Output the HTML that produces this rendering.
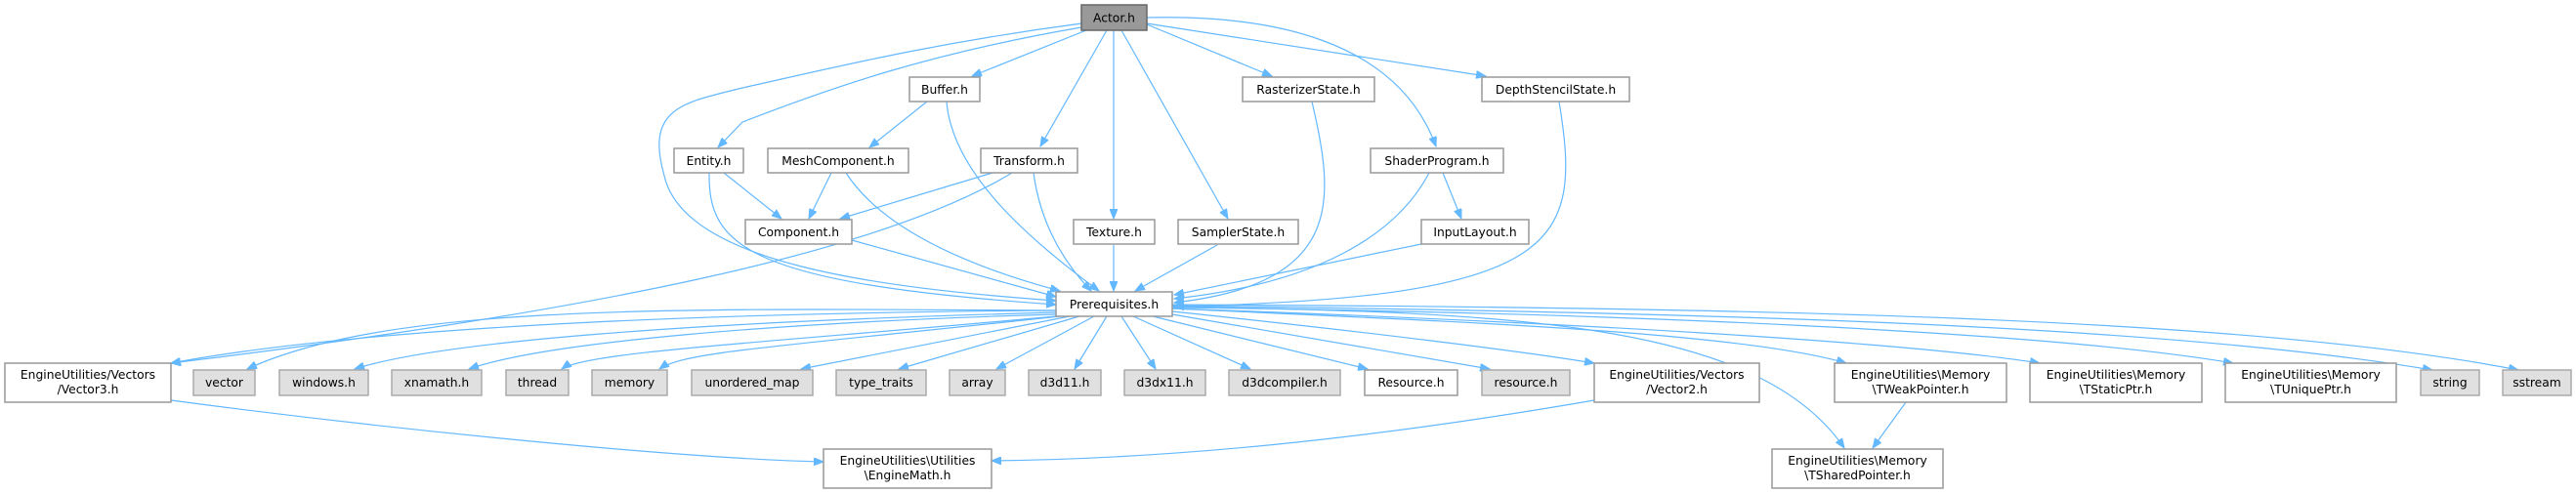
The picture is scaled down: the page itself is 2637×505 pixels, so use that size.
<!DOCTYPE html>
<html><head><meta charset="utf-8"><style>
html,body{margin:0;padding:0;background:#fff}
svg{display:block}
text{font-family:"DejaVu Sans","Liberation Sans",sans-serif;font-size:12.3px;fill:#000}
.n{fill:#fff;stroke:#999;stroke-width:1.5}
.g{fill:#e0e0e0;stroke:#aaa;stroke-width:1.5}
.a{fill:#999;stroke:#666;stroke-width:1.5}
path.e{fill:none;stroke:#63b8ff;stroke-width:1.2}
</style></head><body>
<svg width="2637" height="505" viewBox="0 0 2637 505" xmlns="http://www.w3.org/2000/svg">
<defs><marker id="m" markerWidth="11" markerHeight="8" refX="10" refY="4" orient="auto" markerUnits="userSpaceOnUse"><path d="M0,0 L10,4 L0,8 z" fill="#63b8ff" stroke="#63b8ff"/></marker></defs>
<g marker-end="url(#m)">
<!-- Actor edges -->
<path class="e" d="M1107,24 C950,45 850,70 760,90 C700,105 660,110 680,180 C700,270 900,295 1081,308"/>
<path class="e" d="M1107,28 C950,55 850,90 760,125 L735,151"/>
<path class="e" d="M1112,31 L995,78"/>
<path class="e" d="M1133,31 L1065,150"/>
<path class="e" d="M1140,31 L1140,224"/>
<path class="e" d="M1148,31 L1257,224"/>
<path class="e" d="M1174,25 L1302,78"/>
<path class="e" d="M1174,24 L1521,78"/>
<path class="e" d="M1174,18 C1300,15 1430,40 1470,150"/>
<!-- row 2 -->
<path class="e" d="M949,104 L890,151"/>
<path class="e" d="M969,104 C975,180 1060,250 1125,298"/>
<path class="e" d="M1343,104 C1365,200 1380,290 1202,310"/>
<path class="e" d="M1596,104 C1620,250 1600,305 1202,314"/>
<!-- row 3 -->
<path class="e" d="M741,177 L800,224"/>
<path class="e" d="M726,177 C725,250 760,290 1081,312"/>
<path class="e" d="M851,177 L828,224"/>
<path class="e" d="M866,177 C900,230 980,270 1085,298"/>
<path class="e" d="M1016,177 L860,224"/>
<path class="e" d="M1036,177 C900,260 600,320 175,372"/>
<path class="e" d="M1058,177 C1065,230 1090,270 1117,298"/>
<path class="e" d="M1463,177 C1430,240 1350,290 1202,306"/>
<path class="e" d="M1477,177 L1496,224"/>
<!-- row 4 -->
<path class="e" d="M872,246 L1081,304"/>
<path class="e" d="M1140,251 L1140,298"/>
<path class="e" d="M1246,251 L1162,298"/>
<path class="e" d="M1455,250 L1202,302"/>
<!-- Prereq outgoing -->
<path class="e" d="M1081,318 C800,320 400,330 175,372"/>
<path class="e" d="M1081,318 C700,316 400,310 253,378"/>
<path class="e" d="M1081,320 C700,330 450,350 363,378"/>
<path class="e" d="M1081,322 C800,330 560,350 480,378"/>
<path class="e" d="M1081,324 C800,350 600,360 575,378"/>
<path class="e" d="M1085,324 C800,355 700,360 675,378"/>
<path class="e" d="M1095,324 L820,378"/>
<path class="e" d="M1105,324 L920,378"/>
<path class="e" d="M1120,324 L1020,378"/>
<path class="e" d="M1133,324 L1100,378"/>
<path class="e" d="M1148,324 L1183,378"/>
<path class="e" d="M1160,324 L1280,378"/>
<path class="e" d="M1180,324 L1400,378"/>
<path class="e" d="M1200,322 L1525,378"/>
<path class="e" d="M1200,319 C1400,340 1560,360 1632,372"/>
<path class="e" d="M1200,316 C1500,330 1780,340 1890,372"/>
<path class="e" d="M1200,316 C1600,330 1950,350 2088,372"/>
<path class="e" d="M1200,315 C1650,320 2100,340 2286,372"/>
<path class="e" d="M1200,313 C1700,320 2200,330 2490,379"/>
<path class="e" d="M1200,312 C1800,315 2300,325 2578,379"/>
<path class="e" d="M1200,314 C1550,320 1800,330 1888,459"/>
<!-- bottom -->
<path class="e" d="M175,410 C400,440 700,470 843,473"/>
<path class="e" d="M1632,410 C1400,450 1200,470 1015,472"/>
<path class="e" d="M1951,412 L1917,459"/>
</g>
<!-- nodes -->
<rect class="a" x="1107" y="5" width="67" height="26"/><text x="1140.5" y="22.5" text-anchor="middle">Actor.h</text>
<rect class="n" x="931" y="79" width="72" height="25"/><text x="967" y="96" text-anchor="middle">Buffer.h</text>
<rect class="n" x="1272" y="79" width="135" height="25"/><text x="1339.5" y="96" text-anchor="middle">RasterizerState.h</text>
<rect class="n" x="1517" y="79" width="151" height="25"/><text x="1592.5" y="96" text-anchor="middle">DepthStencilState.h</text>
<rect class="n" x="690" y="152" width="71" height="25"/><text x="725.5" y="169" text-anchor="middle">Entity.h</text>
<rect class="n" x="786" y="152" width="144" height="25"/><text x="858" y="169" text-anchor="middle">MeshComponent.h</text>
<rect class="n" x="1004" y="152" width="99" height="25"/><text x="1053.5" y="169" text-anchor="middle">Transform.h</text>
<rect class="n" x="1403" y="152" width="136" height="25"/><text x="1471" y="169" text-anchor="middle">ShaderProgram.h</text>
<rect class="n" x="763" y="225" width="109" height="25"/><text x="817.5" y="242" text-anchor="middle">Component.h</text>
<rect class="n" x="1099" y="225" width="83" height="25"/><text x="1140.5" y="242" text-anchor="middle">Texture.h</text>
<rect class="n" x="1206" y="225" width="123" height="25"/><text x="1267.5" y="242" text-anchor="middle">SamplerState.h</text>
<rect class="n" x="1455" y="225" width="110" height="25"/><text x="1510" y="242" text-anchor="middle">InputLayout.h</text>
<rect class="n" x="1081" y="299" width="119" height="25"/><text x="1140.5" y="316" text-anchor="middle">Prerequisites.h</text>
<rect class="n" x="5" y="372" width="170" height="40"/><text x="90" y="388" text-anchor="middle">EngineUtilities/Vectors</text><text x="90" y="403" text-anchor="middle">/Vector3.h</text>
<rect class="g" x="198" y="379" width="63" height="26"/><text x="229.5" y="396" text-anchor="middle">vector</text>
<rect class="g" x="286" y="379" width="91" height="26"/><text x="331.5" y="396" text-anchor="middle">windows.h</text>
<rect class="g" x="401" y="379" width="92" height="26"/><text x="447" y="396" text-anchor="middle">xnamath.h</text>
<rect class="g" x="518" y="379" width="64" height="26"/><text x="550" y="396" text-anchor="middle">thread</text>
<rect class="g" x="606" y="379" width="77" height="26"/><text x="644.5" y="396" text-anchor="middle">memory</text>
<rect class="g" x="708" y="379" width="124" height="26"/><text x="770" y="396" text-anchor="middle">unordered_map</text>
<rect class="g" x="856" y="379" width="92" height="26"/><text x="902" y="396" text-anchor="middle">type_traits</text>
<rect class="g" x="972" y="379" width="57" height="26"/><text x="1000.5" y="396" text-anchor="middle">array</text>
<rect class="g" x="1053" y="379" width="74" height="26"/><text x="1090" y="396" text-anchor="middle">d3d11.h</text>
<rect class="g" x="1151" y="379" width="83" height="26"/><text x="1192.5" y="396" text-anchor="middle">d3dx11.h</text>
<rect class="g" x="1258" y="379" width="114" height="26"/><text x="1315" y="396" text-anchor="middle">d3dcompiler.h</text>
<rect class="n" x="1397" y="379" width="95" height="26"/><text x="1444.5" y="396" text-anchor="middle">Resource.h</text>
<rect class="g" x="1517" y="379" width="90" height="26"/><text x="1562" y="396" text-anchor="middle">resource.h</text>
<rect class="n" x="1632" y="372" width="169" height="40"/><text x="1716.5" y="388" text-anchor="middle">EngineUtilities/Vectors</text><text x="1716.5" y="403" text-anchor="middle">/Vector2.h</text>
<rect class="n" x="1878" y="372" width="176" height="40"/><text x="1966" y="388" text-anchor="middle">EngineUtilities\Memory</text><text x="1966" y="403" text-anchor="middle">\TWeakPointer.h</text>
<rect class="n" x="2078" y="372" width="176" height="40"/><text x="2166" y="388" text-anchor="middle">EngineUtilities\Memory</text><text x="2166" y="403" text-anchor="middle">\TStaticPtr.h</text>
<rect class="n" x="2278" y="372" width="175" height="40"/><text x="2365.5" y="388" text-anchor="middle">EngineUtilities\Memory</text><text x="2365.5" y="403" text-anchor="middle">\TUniquePtr.h</text>
<rect class="g" x="2478" y="379" width="60" height="26"/><text x="2508" y="396" text-anchor="middle">string</text>
<rect class="g" x="2562" y="379" width="70" height="26"/><text x="2597" y="396" text-anchor="middle">sstream</text>
<rect class="n" x="843" y="460" width="172" height="40"/><text x="929" y="476" text-anchor="middle">EngineUtilities\Utilities</text><text x="929" y="491" text-anchor="middle">\EngineMath.h</text>
<rect class="n" x="1814" y="460" width="175" height="40"/><text x="1901.5" y="476" text-anchor="middle">EngineUtilities\Memory</text><text x="1901.5" y="491" text-anchor="middle">\TSharedPointer.h</text>
</svg>
</body></html>
